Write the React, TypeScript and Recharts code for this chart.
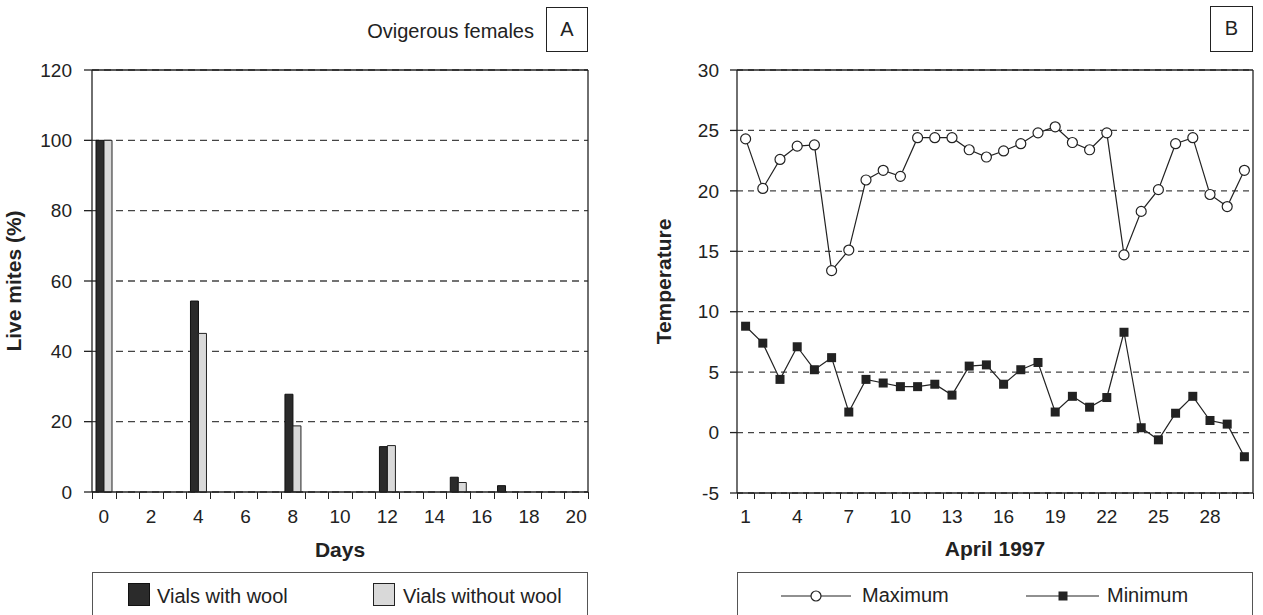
import { Bar, BarChart, CartesianGrid, Line, LineChart, XAxis, YAxis } from "recharts";

const FONT = '"Liberation Sans", Arial, Helvetica, sans-serif';
const INK = "#222";

// panel A: live ovigerous females (%)
const days = [0, 1, 2, 3, 4, 5, 6, 7, 8, 9, 10, 11, 12, 13, 14, 15, 16, 17, 18, 19, 20];
const withWool = [100, null, null, null, 54.3, null, null, null, 27.8, null, null, null, 12.9, null, null, 4.2, null, 1.8, null, null, null];
const withoutWool = [100, null, null, null, 45.1, null, null, null, 18.8, null, null, null, 13.2, null, null, 2.7, null, 0, null, null, null];
const liveTicks = [0, 20, 40, 60, 80, 100, 120];

// panel B: daily temperatures, April 1997
const aprilDays = [1, 2, 3, 4, 5, 6, 7, 8, 9, 10, 11, 12, 13, 14, 15, 16, 17, 18, 19, 20, 21, 22, 23, 24, 25, 26, 27, 28, 29, 30];
const maxTemp = [24.3, 20.2, 22.6, 23.7, 23.8, 13.4, 15.1, 20.9, 21.7, 21.2, 24.4, 24.4, 24.4, 23.4, 22.8, 23.3, 23.9, 24.8, 25.3, 24.0, 23.4, 24.8, 14.7, 18.3, 20.1, 23.9, 24.4, 19.7, 18.7, 21.7];
const minTemp = [8.8, 7.4, 4.4, 7.1, 5.2, 6.2, 1.7, 4.4, 4.1, 3.8, 3.8, 4.0, 3.1, 5.5, 5.6, 4.0, 5.2, 5.8, 1.7, 3.0, 2.1, 2.9, 8.3, 0.4, -0.6, 1.6, 3.0, 1.0, 0.7, -2.0];
const tempTicks = [-5, 0, 5, 10, 15, 20, 25, 30];

const barData = days.map((day, i) => ({ day, withWool: withWool[i], withoutWool: withoutWool[i] }));
const tempData = aprilDays.map((day, i) => ({ day, max: maxTemp[i], min: minTemp[i] }));

const leftPlotWidth = 496;
const rightPlotWidth = 516;
const leftHalfBand = leftPlotWidth / days.length / 2;
const rightHalfBand = rightPlotWidth / aprilDays.length / 2;

const tickFont = { fill: INK, fontSize: 19, fontFamily: FONT };
const titleFont = { fill: INK, fontSize: 21, fontWeight: 700, fontFamily: FONT };

// plot frame: top and right edges, solid
const frameTop = ({ offset }: any) => [offset.top];
const frameRight = ({ offset }: any) => [offset.left + offset.width];

function boundaryMark(px: number, y: number, len: number, key: string) {
  const cx = Math.round(px) + 0.5;
  return <path key={key} d={`M${cx},${y}V${y + len}`} stroke={INK} strokeWidth={1.3} fill="none" shapeRendering="crispEdges" />;
}

function DayTick(props: any) {
  const { x, y, payload, index } = props;
  const ax = Number(x);
  const ay = Number(y);
  const last = index === days.length - 1;
  return (
    <g>
      {boundaryMark(ax - leftHalfBand, ay, 7, "l")}
      {last ? boundaryMark(ax + leftHalfBand, ay, 7, "r") : null}
      {payload.value % 2 === 0 ? (
        <text x={ax} y={ay + 31} textAnchor="middle" {...tickFont}>{payload.value}</text>
      ) : null}
    </g>
  );
}

function AprilTick(props: any) {
  const { x, y, payload, index } = props;
  const ax = Number(x);
  const ay = Number(y);
  const last = index === aprilDays.length - 1;
  return (
    <g>
      {boundaryMark(ax - rightHalfBand, ay, 6, "l")}
      {last ? boundaryMark(ax + rightHalfBand, ay, 6, "r") : null}
      {index % 3 === 0 ? (
        <text x={ax} y={ay + 30} textAnchor="middle" {...tickFont}>{payload.value}</text>
      ) : null}
    </g>
  );
}

function SquareDot({ cx, cy, index }: any) {
  if (cx == null || cy == null) return <g key={index} />;
  return <rect key={index} x={cx - 4.5} y={cy - 4.5} width={9} height={9} fill={INK} />;
}

const boxText = { position: "absolute" as const, fontFamily: FONT, fontSize: 20, color: INK, lineHeight: "24px", whiteSpace: "nowrap" as const };

export default function App() {
  return (
    <div style={{ position: "absolute", left: 0, top: 0, width: 1263, height: 615, overflow: "hidden", background: "#fff" }}>
      {/* panel A header */}
      <div style={{ ...boxText, left: 305, top: 19, width: 229, textAlign: "right" }}>Ovigerous females</div>
      <div style={{ ...boxText, left: 546, top: 7, width: 42, height: 45, border: `1.3px solid ${INK}`, boxSizing: "border-box", textAlign: "center", lineHeight: "42px" }}>A</div>
      {/* panel B header */}
      <div style={{ ...boxText, left: 1210, top: 6, width: 43, height: 46, border: `1.3px solid ${INK}`, boxSizing: "border-box", textAlign: "center", lineHeight: "43px" }}>B</div>

      <div style={{ position: "absolute", left: 0, top: 0 }}>
        <BarChart width={630} height={615} data={barData} margin={{ top: 70, right: 42, bottom: 53, left: 32 }} barGap={0}>
          <CartesianGrid vertical={false} stroke="#444" strokeWidth={1.3} strokeDasharray="7 5" />
          <CartesianGrid stroke={INK} strokeWidth={1.3} horizontalCoordinatesGenerator={frameTop} verticalCoordinatesGenerator={frameRight} />
          <XAxis dataKey="day" height={70} interval={0} tickSize={0} tickMargin={0} tickLine={false} axisLine={{ stroke: INK, strokeWidth: 1.3 }} tick={<DayTick />}
            label={{ value: "Days", position: "insideBottom", offset: 5, style: titleFont }} />
          <YAxis domain={[0, 120]} ticks={liveTicks} width={60} tickSize={8} tickMargin={12} tick={tickFont}
            tickLine={{ stroke: INK, strokeWidth: 1.3 }} axisLine={{ stroke: INK, strokeWidth: 1.3 }}
            label={{ value: "Live mites (%)", angle: -90, position: "left", offset: 18.5, style: { ...titleFont, textAnchor: "middle" } }} />
          <Bar dataKey="withWool" name="Vials with wool" fill="#2b2b2b" stroke="#111" strokeWidth={1} barSize={8} isAnimationActive={false} />
          <Bar dataKey="withoutWool" name="Vials without wool" fill="#d9d9d9" stroke="#222" strokeWidth={1} barSize={8} isAnimationActive={false} />
        </BarChart>
      </div>

      <div style={{ position: "absolute", left: 630, top: 0 }}>
        <LineChart width={633} height={615} data={tempData} margin={{ top: 70, right: 10, bottom: 52, left: 47 }}>
          <CartesianGrid vertical={false} stroke="#444" strokeWidth={1.3} strokeDasharray="6 5" />
          <CartesianGrid stroke={INK} strokeWidth={1.3} horizontalCoordinatesGenerator={frameTop} verticalCoordinatesGenerator={frameRight} />
          <XAxis dataKey="day" height={70} interval={0} padding={{ left: rightHalfBand, right: rightHalfBand }} tickSize={0} tickMargin={0} tickLine={false}
            axisLine={{ stroke: INK, strokeWidth: 1.3 }} tick={<AprilTick />}
            label={{ value: "April 1997", position: "insideBottom", offset: 7, style: titleFont }} />
          <YAxis domain={[-5, 30]} ticks={tempTicks} width={60} tickSize={7} tickMargin={11} tick={tickFont}
            tickLine={{ stroke: INK, strokeWidth: 1.3 }} axisLine={{ stroke: INK, strokeWidth: 1.3 }}
            label={{ value: "Temperature", angle: -90, position: "left", offset: 13, style: { ...titleFont, textAnchor: "middle" } }} />
          <Line type="linear" dataKey="max" name="Maximum" stroke={INK} strokeWidth={1.2}
            dot={{ r: 5, fill: "#fff", stroke: INK, strokeWidth: 1.2 }} isAnimationActive={false} />
          <Line type="linear" dataKey="min" name="Minimum" stroke={INK} strokeWidth={1.2} dot={<SquareDot />} isAnimationActive={false} />
        </LineChart>
      </div>

      {/* legend A */}
      <div style={{ position: "absolute", left: 92, top: 572, width: 496, height: 60, border: "1.3px solid #555", boxSizing: "border-box" }}>
        <div style={{ position: "absolute", left: 35, top: 10, width: 22, height: 23, background: "#2b2b2b", border: "1px solid #111", boxSizing: "border-box" }} />
        <div style={{ ...boxText, left: 64, top: 11 }}>Vials with wool</div>
        <div style={{ position: "absolute", left: 280, top: 10, width: 22, height: 23, background: "#d9d9d9", border: "1px solid #222", boxSizing: "border-box" }} />
        <div style={{ ...boxText, left: 310, top: 11 }}>Vials without wool</div>
      </div>

      {/* legend B */}
      <div style={{ position: "absolute", left: 737, top: 572, width: 516, height: 60, border: "1.3px solid #555", boxSizing: "border-box" }}>
        <svg style={{ position: "absolute", left: 0, top: 0 }} width={516} height={46}>
          <line x1={43} x2={113} y1={23} y2={23} stroke={INK} strokeWidth={1.2} />
          <circle cx={78} cy={23} r={5} fill="#fff" stroke={INK} strokeWidth={1.2} />
          <line x1={288} x2={361} y1={23} y2={23} stroke={INK} strokeWidth={1.2} />
          <rect x={320.5} y={18.5} width={9} height={9} fill={INK} />
        </svg>
        <div style={{ ...boxText, left: 124, top: 10 }}>Maximum</div>
        <div style={{ ...boxText, left: 369, top: 10 }}>Minimum</div>
      </div>
    </div>
  );
}
